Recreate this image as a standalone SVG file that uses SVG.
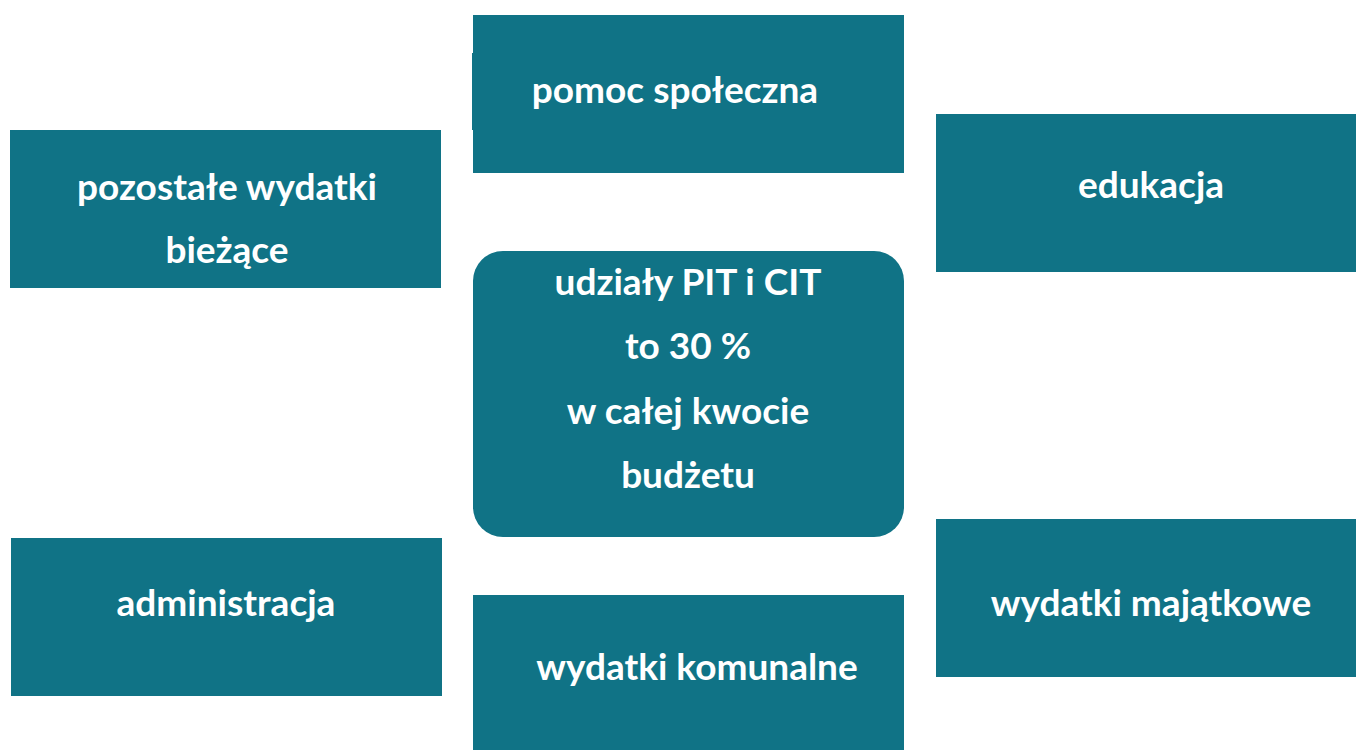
<svg xmlns="http://www.w3.org/2000/svg" width="1356" height="750" viewBox="0 0 1356 750">
<style>
.box{fill:#107386}
.t{font-family:Lato,"Liberation Sans",sans-serif;font-weight:bold;font-size:37px;fill:#ffffff;text-anchor:middle}
</style>
<rect width="1356" height="750" fill="#ffffff"/>
<g id="connectors"></g>
<g id="pomoc">
<rect class="box" x="473" y="15" width="431" height="158"/>
<rect class="box" x="472" y="53" width="2" height="77"/>
<text class="t" x="675" y="103">pomoc społeczna</text>
</g>
<g id="pozostale">
<rect class="box" x="10" y="130" width="431" height="158"/>
<text class="t" x="227" y="200">pozostałe wydatki</text>
<text class="t" x="227" y="263">bieżące</text>
</g>
<g id="edukacja">
<rect class="box" x="936" y="114" width="420" height="158"/>
<text class="t" x="1151" y="198">edukacja</text>
</g>
<g id="center">
<rect class="box" x="473" y="251" width="431" height="286" rx="30"/>
<text class="t" x="688" y="295">udziały PIT i CIT</text>
<text class="t" x="688" y="359">to 30 %</text>
<text class="t" x="688" y="424">w całej kwocie</text>
<text class="t" x="688" y="488">budżetu</text>
</g>
<g id="administracja">
<rect class="box" x="11" y="538" width="431" height="158"/>
<text class="t" x="226" y="616">administracja</text>
</g>
<g id="majatkowe">
<rect class="box" x="936" y="519" width="420" height="158"/>
<text class="t" x="1151" y="616">wydatki majątkowe</text>
</g>
<g id="komunalne">
<rect class="box" x="473" y="595" width="431" height="155"/>
<text class="t" x="697" y="680">wydatki komunalne</text>
</g>
</svg>
